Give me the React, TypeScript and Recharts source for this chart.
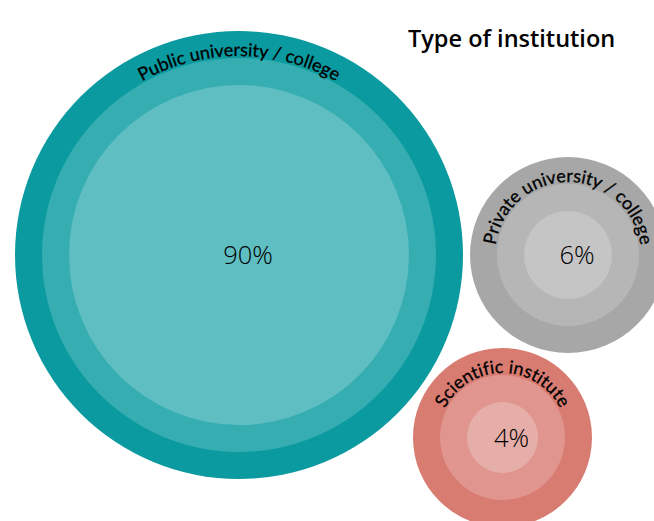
import React from 'react';
import { ScatterChart, Scatter, XAxis, YAxis } from 'recharts';

// Categories and values
const categories = ['Public university / college', 'Private university / college', 'Scientific institute'];
const shares = [90, 6, 4];
// Packed-bubble layout (data units)
const bubbleX = [239, 568, 502.5];
const bubbleY = [255, 255, 437.5];
const bubbleR = [224, 98, 89.5];
const title = 'Type of institution';

const palettes = [
  ['#0A9A9F', '#35ADB1', '#5EBEC1'],
  ['#A7A7A7', '#B6B6B6', '#C5C5C5'],
  ['#D87C72', '#E0968F', '#E6AEA9'],
];

const W = 654;
const H = 521;

const data = categories.map((name, i) => ({
  name,
  value: shares[i],
  x: bubbleX[i],
  y: bubbleY[i],
  r: bubbleR[i],
  idx: i,
}));

const FONT = '"Open Sans", "DejaVu Sans", sans-serif';
const LABEL_FONT = 'Lato, "Open Sans", sans-serif';

const Bubble = (props: any) => {
  const { cx, cy, payload } = props;
  if (cx == null || cy == null) return null;
  const unit = W / W; // px per data unit (domain equals chart size)
  const R = payload.r * unit;
  const pal = palettes[payload.idx];
  const ring = 27;
  const tr = R - 25;
  const a = (179 * Math.PI) / 180;
  const x1 = cx - tr * Math.sin(a);
  const y1 = cy - tr * Math.cos(a);
  const x2 = cx + tr * Math.sin(a);
  const y2 = cy - tr * Math.cos(a);
  const id = `arc-${payload.idx}`;
  const d = `M ${x1} ${y1} A ${tr} ${tr} 0 1 1 ${x2} ${y2}`;
  return (
    <g>
      <defs>
        <path id={id} d={d} />
      </defs>
      <circle cx={cx} cy={cy} r={R} fill={pal[0]} />
      <circle cx={cx} cy={cy} r={R - ring} fill={pal[1]} />
      <circle cx={cx} cy={cy} r={R - 2 * ring} fill={pal[2]} />
      <text
        fontFamily={LABEL_FONT}
        fontSize={18}
        fill="#000"
        stroke="#000"
        strokeWidth={0.3}
        style={{ fontVariantLigatures: 'none' }}
      >
        <textPath href={`#${id}`} startOffset="50%" textAnchor="middle">
          {payload.name}
        </textPath>
      </text>
      <text
        x={cx + 9}
        y={cy + 9}
        textAnchor="middle"
        fontFamily={FONT}
        fontWeight={300}
        fontSize={25.5}
        fill="#000"
      >
        {`${payload.value}%`}
      </text>
    </g>
  );
};

export default function App() {
  return (
    <div style={{ position: 'absolute', left: 0, top: 0, width: W, height: H, background: '#fff', overflow: 'hidden' }}>
      <ScatterChart width={W} height={H} margin={{ top: 0, right: 0, bottom: 0, left: 0 }}>
        <XAxis type="number" dataKey="x" domain={[0, W]} hide allowDataOverflow />
        <YAxis type="number" dataKey="y" domain={[0, H]} reversed hide allowDataOverflow />
        <Scatter data={data} shape={Bubble} isAnimationActive={false} />
      </ScatterChart>
      <div
        style={{
          position: 'absolute',
          left: 408,
          top: 22,
          fontFamily: FONT,
          fontWeight: 600,
          fontSize: 23.5,
          color: '#000',
          whiteSpace: 'nowrap',
          lineHeight: '32px',
        }}
      >
        {title}
      </div>
    </div>
  );
}
